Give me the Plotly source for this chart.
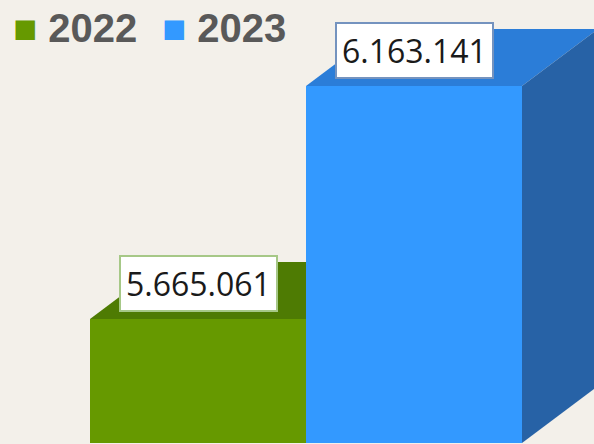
import plotly.graph_objects as go

# ---- data ----
years = ["2022", "2023"]
values = [5665061, 6163141]
labels = ["5.665.061", "6.163.141"]
axis_min = 5400000

# ---- style ----
front_colors = ["#669900", "#3399ff"]
top_colors = ["#4e7b03", "#2b7dd8"]
side_colors = ["#466e02", "#2762a6"]
box_borders = ["#a6c887", "#7493bf"]
bg = "#f3f0ea"

units_per_px = 2137.6
depth_dx = 0.352            # in x-units (bar width = 1)
depth_dy = 57 * units_per_px
y_top = axis_min + 443 * units_per_px
y_bottom = axis_min - 1 * units_per_px
x_lo, x_hi = -0.5 - 90 / 216, 1.5 + 72 / 216

fig = go.Figure()

# front faces (real bars)
for i, (yr, v) in enumerate(zip(years, values)):
    fig.add_trace(go.Bar(
        x=[i], y=[v - axis_min], base=[axis_min], width=[1],
        marker=dict(color=front_colors[i], line=dict(width=0)),
        name=yr, showlegend=False, hoverinfo="skip"))

# top face of the first (green) bar, clipped where the second bar's front hides it
v0 = values[0]
fig.add_trace(go.Scatter(
    x=[-0.5, 0.5, 0.5, -0.5 + depth_dx, -0.5],
    y=[v0, v0, v0 + depth_dy, v0 + depth_dy, v0],
    fill="toself", fillcolor=top_colors[0], mode="none",
    showlegend=False, hoverinfo="skip"))

# top and side faces of the second (blue) bar
v1 = values[1]
fig.add_trace(go.Scatter(
    x=[0.5, 1.5, 1.5 + depth_dx, 0.5 + depth_dx, 0.5],
    y=[v1, v1, v1 + depth_dy, v1 + depth_dy, v1],
    fill="toself", fillcolor=top_colors[1], mode="none",
    showlegend=False, hoverinfo="skip"))
fig.add_trace(go.Scatter(
    x=[1.5, 1.5 + depth_dx, 1.5 + depth_dx, 1.5, 1.5],
    y=[v1, v1 + depth_dy, axis_min + depth_dy, axis_min, v1],
    fill="toself", fillcolor=side_colors[1], mode="none",
    showlegend=False, hoverinfo="skip"))

# value labels
annotations = []
for i, (v, lab) in enumerate(zip(values, labels)):
    annotations.append(dict(
        x=i, y=v, xref="x", yref="y", text=lab, showarrow=False,
        yanchor="bottom", yshift=7,
        font=dict(family="Open Sans", size=32, color="#1a1a1a"),
        bgcolor="white", bordercolor=box_borders[i], borderwidth=2, borderpad=5))

# legend drawn as text
legend_x = [0.018, 0.27]
for i, yr in enumerate(years):
    annotations.append(dict(
        x=legend_x[i], y=1.0, xref="paper", yref="paper",
        xanchor="left", yanchor="top", showarrow=False, yshift=-4,
        text=f"<span style='color:{front_colors[i]};font-size:40px'>■</span> <b>{yr}</b>",
        font=dict(family="Liberation Sans", size=40, color="#595959"),
        ))

fig.update_layout(
    width=594, height=444,
    margin=dict(l=0, r=0, t=0, b=0),
    paper_bgcolor=bg, plot_bgcolor=bg,
    showlegend=False, barmode="overlay",
    xaxis=dict(range=[x_lo, x_hi], visible=False, fixedrange=True),
    yaxis=dict(range=[y_bottom, y_top], visible=False, fixedrange=True),
    annotations=annotations,
)

fig.write_html("out.html", config={"displayModeBar": False},
               post_script="document.body.style.margin='0';document.body.style.overflow='hidden';document.body.style.background='" + bg + "';")
